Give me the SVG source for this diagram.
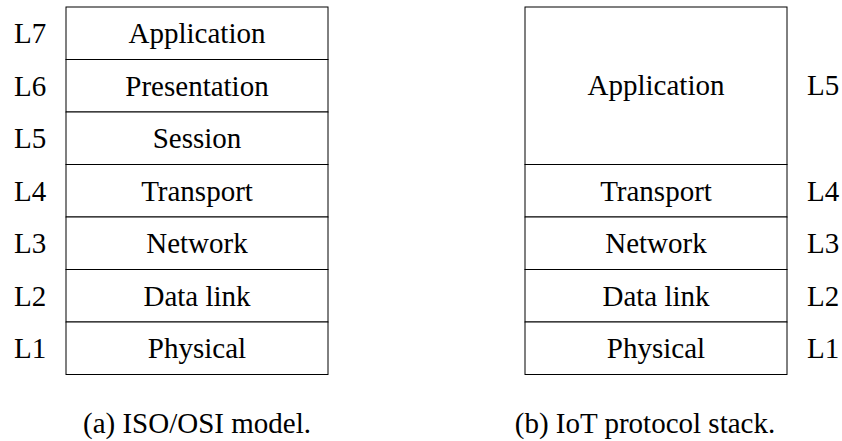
<svg xmlns="http://www.w3.org/2000/svg" width="842" height="441" viewBox="0 0 842 441">
  <style>
    .cell { fill: #ffffff; stroke: #000000; stroke-width: 1; }
    text { font-family: "Times New Roman", "Liberation Serif", Tinos, "Noto Serif", "DejaVu Serif", FreeSerif, Times, serif; font-size: 29px; fill: #000000; }
    .c { text-anchor: middle; }
  </style>
  <rect width="842" height="441" fill="#ffffff"/>

  <!-- (a) ISO/OSI seven-layer model -->
  <g id="osi">
    <g id="osi-l7">
      <rect class="cell" x="66" y="7" width="262" height="52.5"/>
      <text x="14" y="43">L7</text>
      <text class="c" x="197" y="43">Application</text>
    </g>
    <g id="osi-l6">
      <rect class="cell" x="66" y="59.5" width="262" height="52.5"/>
      <text x="14" y="95.5">L6</text>
      <text class="c" x="197" y="95.5">Presentation</text>
    </g>
    <g id="osi-l5">
      <rect class="cell" x="66" y="112" width="262" height="52.5"/>
      <text x="14" y="148">L5</text>
      <text class="c" x="197" y="148">Session</text>
    </g>
    <g id="osi-l4">
      <rect class="cell" x="66" y="164.5" width="262" height="52.5"/>
      <text x="14" y="200.5">L4</text>
      <text class="c" x="197" y="200.5">Transport</text>
    </g>
    <g id="osi-l3">
      <rect class="cell" x="66" y="217" width="262" height="52.5"/>
      <text x="14" y="253">L3</text>
      <text class="c" x="197" y="253">Network</text>
    </g>
    <g id="osi-l2">
      <rect class="cell" x="66" y="269.5" width="262" height="52.5"/>
      <text x="14" y="305.5">L2</text>
      <text class="c" x="197" y="305.5">Data link</text>
    </g>
    <g id="osi-l1">
      <rect class="cell" x="66" y="322" width="262" height="52.5"/>
      <text x="14" y="358">L1</text>
      <text class="c" x="197" y="358">Physical</text>
    </g>
    <text class="c" x="197" y="433">(a) ISO/OSI model.</text>
  </g>

  <!-- (b) IoT protocol stack -->
  <g id="iot">
    <g id="iot-l5">
      <rect class="cell" x="525" y="7" width="262" height="157.5"/>
      <text class="c" x="656" y="95">Application</text>
      <text x="807" y="95">L5</text>
    </g>
    <g id="iot-l4">
      <rect class="cell" x="525" y="164.5" width="262" height="52.5"/>
      <text class="c" x="656" y="200.5">Transport</text>
      <text x="807" y="200.5">L4</text>
    </g>
    <g id="iot-l3">
      <rect class="cell" x="525" y="217" width="262" height="52.5"/>
      <text class="c" x="656" y="253">Network</text>
      <text x="807" y="253">L3</text>
    </g>
    <g id="iot-l2">
      <rect class="cell" x="525" y="269.5" width="262" height="52.5"/>
      <text class="c" x="656" y="305.5">Data link</text>
      <text x="807" y="305.5">L2</text>
    </g>
    <g id="iot-l1">
      <rect class="cell" x="525" y="322" width="262" height="52.5"/>
      <text class="c" x="656" y="358">Physical</text>
      <text x="807" y="358">L1</text>
    </g>
    <text class="c" x="645" y="433">(b) IoT protocol stack.</text>
  </g>

  <!-- no connectors between the stacks -->
  <g id="connectors"/>
</svg>
